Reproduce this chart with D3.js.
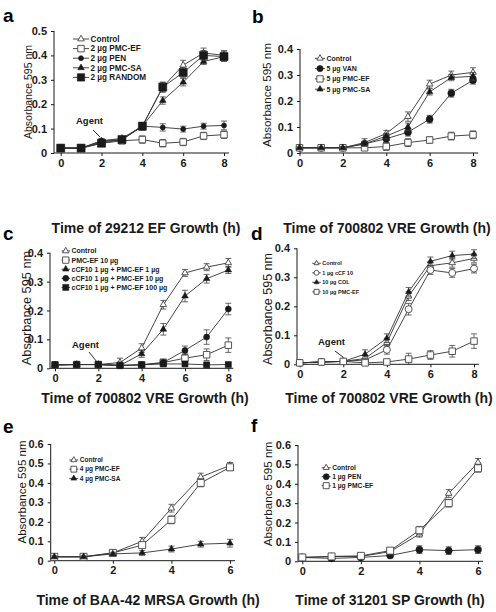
<!DOCTYPE html>
<html><head><meta charset="utf-8">
<script src="https://cdn.jsdelivr.net/npm/d3@7"></script>
<style>body{margin:0;background:#fff}svg{display:block}text{font-family:"Liberation Sans",Arial,sans-serif}</style>
</head><body>
<script>
// ---------- DATA ----------
const hours8 = [0,1,2,3,4,5,6,7,8];
const hours6 = [0,1,2,3,4,5,6];

// panel a: 29212 EF
const aTicksY = [0,0.1,0.2,0.3,0.4,0.5];
const aControl = [0.02,0.02,0.05,0.06,0.11,0.27,0.36,0.41,0.40];
const aControlErr = [0.005,0.005,0.008,0.008,0.015,0.02,0.02,0.02,0.02];
const aPmcEf = [0.02,0.02,0.04,0.05,0.055,0.04,0.045,0.07,0.075];
const aPmcEfErr = [0.005,0.005,0.008,0.01,0.015,0.015,0.015,0.015,0.015];
const aPen = [0.02,0.02,0.05,0.055,0.11,0.105,0.098,0.11,0.113];
const aPenErr = [0.005,0.005,0.008,0.008,0.015,0.015,0.012,0.012,0.018];
const aPmcSa = [0.02,0.02,0.045,0.055,0.11,0.215,0.29,0.375,0.395];
const aPmcSaErr = [0.005,0.005,0.008,0.008,0.015,0.015,0.015,0.012,0.015];
const aRandom = [0.02,0.02,0.04,0.055,0.11,0.27,0.33,0.40,0.395];
const aRandomErr = [0.005,0.005,0.008,0.008,0.015,0.02,0.02,0.02,0.02];

// panel b: 700802 VRE
const bTicksY = [0,0.1,0.2,0.3,0.4];
const bControl = [0.02,0.02,0.02,0.04,0.075,0.14,0.265,0.30,0.31];
const bControlErr = [0.003,0.003,0.005,0.015,0.012,0.018,0.015,0.015,0.018];
const bVan = [0.02,0.02,0.02,0.035,0.055,0.08,0.13,0.23,0.28];
const bVanErr = [0.003,0.003,0.005,0.01,0.015,0.015,0.015,0.015,0.015];
const bPmcEf = [0.02,0.02,0.02,0.02,0.025,0.04,0.05,0.065,0.07];
const bPmcEfErr = [0.003,0.003,0.005,0.01,0.015,0.015,0.012,0.015,0.015];
const bPmcSa = [0.02,0.02,0.02,0.035,0.065,0.10,0.235,0.29,0.295];
const bPmcSaErr = [0.003,0.003,0.005,0.01,0.01,0.015,0.012,0.012,0.015];

// panel c: 700802 VRE
const cTicksY = [0,0.1,0.2,0.3,0.4];
const cControl = [0.012,0.013,0.013,0.02,0.07,0.22,0.33,0.35,0.365];
const cControlErr = [0.003,0.003,0.003,0.015,0.015,0.015,0.012,0.012,0.015];
const cPmcEf10 = [0.012,0.013,0.013,0.01,0.012,0.02,0.035,0.047,0.08];
const cPmcEf10Err = [0.003,0.003,0.003,0.005,0.005,0.01,0.015,0.02,0.025];
const cCf1 = [0.012,0.013,0.013,0.01,0.05,0.135,0.25,0.31,0.34];
const cCf1Err = [0.003,0.003,0.003,0.005,0.012,0.02,0.02,0.015,0.012];
const cCf10 = [0.012,0.013,0.013,0.01,0.012,0.02,0.062,0.108,0.205];
const cCf10Err = [0.003,0.003,0.003,0.005,0.005,0.012,0.015,0.025,0.02];
const cCf100 = [0.012,0.013,0.013,0.01,0.012,0.015,0.015,0.012,0.013];
const cCf100Err = [0.003,0.003,0.003,0.005,0.005,0.005,0.005,0.005,0.005];

// panel d: 700802 VRE
const dTicksY = [0,0.1,0.2,0.3,0.4];
const dControl = [0.005,0.008,0.01,0.02,0.075,0.235,0.34,0.35,0.365];
const dControlErr = [0.003,0.003,0.003,0.01,0.015,0.015,0.015,0.015,0.015];
const dCcf = [0.005,0.008,0.01,0.015,0.05,0.19,0.325,0.315,0.33];
const dCcfErr = [0.003,0.003,0.003,0.005,0.015,0.02,0.015,0.015,0.015];
const dCol = [0.005,0.008,0.01,0.035,0.09,0.25,0.355,0.375,0.38];
const dColErr = [0.003,0.003,0.003,0.015,0.015,0.015,0.015,0.015,0.015];
const dPmcEf = [0.005,0.008,0.01,0.005,0.008,0.018,0.032,0.045,0.08];
const dPmcEfErr = [0.003,0.003,0.003,0.005,0.005,0.02,0.015,0.02,0.025];

// panel e: BAA-42 MRSA
const eTicksY = [0,0.1,0.2,0.3,0.4,0.5,0.6];
const eControl = [0.02,0.02,0.04,0.10,0.27,0.43,0.49];
const eControlErr = [0.005,0.005,0.008,0.02,0.02,0.02,0.015];
const ePmcEf = [0.02,0.02,0.04,0.08,0.21,0.40,0.48];
const ePmcEfErr = [0.005,0.005,0.008,0.015,0.02,0.02,0.015];
const ePmcSa = [0.02,0.02,0.035,0.04,0.06,0.085,0.09];
const ePmcSaErr = [0.005,0.005,0.008,0.012,0.015,0.015,0.02];

// panel f: 31201 SP
const fTicksY = [0,0.1,0.2,0.3,0.4,0.5,0.6];
const fControl = [0.02,0.025,0.025,0.05,0.14,0.35,0.51];
const fControlErr = [0.005,0.005,0.005,0.01,0.015,0.02,0.02];
const fPen = [0.02,0.015,0.02,0.03,0.06,0.055,0.06];
const fPenErr = [0.005,0.005,0.005,0.008,0.02,0.02,0.02];
const fPmcEf = [0.02,0.025,0.028,0.055,0.16,0.30,0.48];
const fPmcEfErr = [0.005,0.005,0.005,0.01,0.02,0.02,0.02];

const xTicks8 = [0,2,4,6,8];
const xTicks6 = [0,2,4,6];

// ---------- PANELS (layout) ----------
const panels = [
 {label:"a", lx:3, ly:22, title:"Time of 29212 EF Growth (h)", tx:146, ty:233,
  ax:54, x0:60.7, x1:224, xMax:8, y0:153, y1:31, yMax:0.5, xs:hours8, xt:xTicks8, yt:aTicksY,
  ylab:{x:32, y:92, fs:10.5}, tickFs:11,
  leg:{x:73, y:39, dy:9.6, len:16, fs:8.2},
  agent:{tx:76, ty:124, lx1:93, ly1:130, lx2:100, ly2:137, fs:9.5},
  series:[
   {name:"Control", v:aControl, e:aControlErr, m:"triOpen", s:6.5},
   {name:"2 µg PMC-EF", v:aPmcEf, e:aPmcEfErr, m:"sqOpen", s:6.5},
   {name:"2 µg PEN", v:aPen, e:aPenErr, m:"circFill", s:5},
   {name:"2 µg PMC-SA", v:aPmcSa, e:aPmcSaErr, m:"triFill", s:6.5},
   {name:"2 µg RANDOM", v:aRandom, e:aRandomErr, m:"sqFill", s:8}]},
 {label:"b", lx:252, ly:23, title:"Time of 700802 VRE Growth (h)", tx:387, ty:233,
  ax:300, x0:299.5, x1:473, xMax:8, y0:153, y1:49, yMax:0.4, xs:hours8, xt:xTicks8, yt:bTicksY,
  ylab:{x:271, y:95, fs:11.6}, tickFs:11,
  leg:{x:315, y:58.3, dy:10.3, len:10, fs:7},
  series:[
   {name:"Control", v:bControl, e:bControlErr, m:"triOpen", s:6.5},
   {name:"5 µg VAN", v:bVan, e:bVanErr, m:"circFill", s:7},
   {name:"5 µg PMC-EF", v:bPmcEf, e:bPmcEfErr, m:"sqOpen", s:6.5},
   {name:"5 µg PMC-SA", v:bPmcSa, e:bPmcSaErr, m:"triFill", s:6.5}]},
 {label:"c", lx:3, ly:240, title:"Time of 700802 VRE Growth (h)", tx:145, ty:403,
  ax:50, x0:55, x1:228.3, xMax:8, y0:368.3, y1:252.7, yMax:0.4, xs:hours8, xt:xTicks8, yt:cTicksY,
  ylab:{x:31, y:308, fs:12.8}, tickFs:11,
  leg:{x:61.5, y:251, dy:9.1, len:8.5, fs:7},
  agent:{tx:72, ty:348, lx1:89, ly1:352, lx2:97, ly2:362, fs:9.5},
  series:[
   {name:"Control", v:cControl, e:cControlErr, m:"triOpen", s:6.5},
   {name:"PMC-EF 10 µg", v:cPmcEf10, e:cPmcEf10Err, m:"sqOpen", s:6.5},
   {name:"cCF10 1 µg + PMC-EF 1 µg", v:cCf1, e:cCf1Err, m:"triFill", s:6.5},
   {name:"cCF10 1 µg + PMC-EF 10 µg", v:cCf10, e:cCf10Err, m:"circFill", s:6},
   {name:"cCF10 1 µg + PMC-EF 100 µg", v:cCf100, e:cCf100Err, m:"sqFill", s:6}]},
 {label:"d", lx:251, ly:240, title:"Time of 700802 VRE Growth (h)", tx:389, ty:403,
  ax:297, x0:299.7, x1:474, xMax:8, y0:364.3, y1:248.3, yMax:0.4, xs:hours8, xt:xTicks8, yt:dTicksY,
  ylab:{x:272, y:309, fs:12.5}, tickFs:11,
  leg:{x:312.3, y:263.3, dy:9.5, len:8.5, fs:5.5},
  agent:{tx:318, ty:345, lx1:335, ly1:351, lx2:343, ly2:357, fs:9.5},
  series:[
   {name:"Control", v:dControl, e:dControlErr, m:"triOpen", s:6.5},
   {name:"1 µg cCF 10", v:dCcf, e:dCcfErr, m:"circOpen", s:7},
   {name:"10 µg COL", v:dCol, e:dColErr, m:"triFill", s:6},
   {name:"10 µg PMC-EF", v:dPmcEf, e:dPmcEfErr, m:"sqOpen", s:6.5}]},
 {label:"e", lx:3, ly:433, title:"Time of BAA-42 MRSA Growth (h)", tx:148, ty:605,
  ax:50.7, x0:54.3, x1:230, xMax:6, y0:560.7, y1:444, yMax:0.6, xs:hours6, xt:xTicks6, yt:eTicksY,
  ylab:{x:26, y:492, fs:11.5}, tickFs:11,
  leg:{x:69.3, y:460, dy:9.2, len:9, fs:6.5},
  series:[
   {name:"Control", v:eControl, e:eControlErr, m:"triOpen", s:6.5},
   {name:"4 µg PMC-EF", v:ePmcEf, e:ePmcEfErr, m:"sqOpen", s:7},
   {name:"4 µg PMC-SA", v:ePmcSa, e:ePmcSaErr, m:"triFill", s:6.5}]},
 {label:"f", lx:251, ly:432, title:"Time of 31201 SP Growth (h)", tx:390, ty:605,
  ax:298, x0:302.3, x1:478, xMax:6, y0:561.3, y1:445, yMax:0.6, xs:hours6, xt:xTicks6, yt:fTicksY,
  ylab:{x:272, y:494, fs:11.7}, tickFs:11,
  leg:{x:321.7, y:467.7, dy:9, len:9, fs:6.7},
  series:[
   {name:"Control", v:fControl, e:fControlErr, m:"triOpen", s:6.5},
   {name:"1 µg PEN", v:fPen, e:fPenErr, m:"circFill", s:7},
   {name:"1 µg PMC-EF", v:fPmcEf, e:fPmcEfErr, m:"sqOpen", s:7}]}
];

const W = 496, H = 612;
const svg = d3.select("body").append("svg").attr("width", W).attr("height", H);
const INK = "#1a1a1a";

function marker(g, type, size, x, y) {
  let shape, area;
  if (type.startsWith("tri")) { shape = d3.symbolTriangle; area = 0.433 * size * size; }
  else if (type.startsWith("sq")) { shape = d3.symbolSquare; area = size * size; }
  else { shape = d3.symbolCircle; area = Math.PI * size * size / 4; }
  const filled = type.endsWith("Fill");
  g.append("path")
    .attr("d", d3.symbol().type(shape).size(area)())
    .attr("transform", `translate(${x},${y})`)
    .attr("fill", filled ? INK : "#fff")
    .attr("stroke", filled ? INK : "#444")
    .attr("stroke-width", filled ? 0.6 : 0.9);
}

panels.forEach(p => {
  const g = svg.append("g");
  const x = d3.scaleLinear().domain([0, p.xMax]).range([p.x0, p.x1]);
  const y = d3.scaleLinear().domain([0, p.yMax]).range([p.y0, p.y1]);
  const xEnd = x(p.xMax) + 5;

  // axes
  const yAxis = d3.axisLeft(y).tickValues(p.yt).tickSize(3).tickPadding(4)
    .tickFormat(d => d === 0 ? "0" : d3.format(".1f")(d));
  const ya = g.append("g").attr("transform", `translate(${p.ax},0)`).call(yAxis);
  ya.select(".domain").attr("d", `M-0,${p.y0}V${p.y1}`).attr("stroke", INK);
  ya.selectAll("text").attr("font-size", p.tickFs).attr("font-weight", "bold").attr("fill", INK);
  ya.selectAll("line").attr("stroke", INK);

  const xAxis = d3.axisBottom(x).tickValues(p.xt).tickSize(3).tickPadding(3).tickFormat(d3.format("d"));
  const xa = g.append("g").attr("transform", `translate(0,${p.y0})`).call(xAxis);
  xa.select(".domain").attr("d", `M${p.ax},0H${xEnd}`).attr("stroke", INK);
  xa.selectAll("text").attr("font-size", p.tickFs).attr("font-weight", "bold").attr("fill", INK);
  xa.selectAll("line").attr("stroke", INK);

  // y label
  g.append("text").attr("transform", `translate(${p.ylab.x},${p.ylab.y}) rotate(-90)`)
    .attr("text-anchor", "middle").attr("font-size", p.ylab.fs).attr("fill", INK)
    .text("Absorbance 595 nm");
  // title
  g.append("text").attr("x", p.tx).attr("y", p.ty).attr("text-anchor", "middle")
    .attr("font-size", 14).attr("font-weight", "bold").attr("fill", INK).text(p.title);
  // panel label
  g.append("text").attr("x", p.lx).attr("y", p.ly).attr("font-size", 19)
    .attr("font-weight", "bold").attr("fill", "#000").text(p.label);

  // series
  const line = d3.line().x(d => x(d[0])).y(d => y(d[1]));
  p.series.forEach(s => {
    const pts = p.xs.map((h, i) => [h, s.v[i], s.e[i]]);
    g.append("path").attr("d", line(pts)).attr("fill", "none").attr("stroke", "#333").attr("stroke-width", 0.9);
    pts.forEach(d => {
      const cx = x(d[0]), top = y(d[1] + d[2]), bot = y(Math.max(0, d[1] - d[2]));
      g.append("path").attr("d", `M${cx},${top}V${bot}M${cx-3},${top}H${cx+3}M${cx-3},${bot}H${cx+3}`)
        .attr("stroke", "#444").attr("stroke-width", 0.8).attr("fill", "none");
    });
    pts.forEach(d => marker(g, s.m, s.s, x(d[0]), y(d[1])));
  });

  // legend
  const L = p.leg;
  p.series.forEach((s, i) => {
    const ly = L.y + i * L.dy;
    g.append("line").attr("x1", L.x).attr("x2", L.x + L.len).attr("y1", ly).attr("y2", ly)
      .attr("stroke", "#333").attr("stroke-width", 0.9);
    marker(g, s.m, Math.min(s.s, L.fs * 0.9), L.x + L.len / 2, ly);
    g.append("text").attr("x", L.x + L.len + 1.5).attr("y", ly).attr("dy", "0.35em")
      .attr("font-size", L.fs).attr("font-weight", "bold").attr("fill", INK).text(s.name);
  });

  // agent annotation
  if (p.agent) {
    const A = p.agent;
    g.append("text").attr("x", A.tx).attr("y", A.ty).attr("font-size", A.fs)
      .attr("font-weight", "bold").attr("fill", INK).text("Agent");
    g.append("line").attr("x1", A.lx1).attr("y1", A.ly1).attr("x2", A.lx2).attr("y2", A.ly2)
      .attr("stroke", INK).attr("stroke-width", 0.9);
  }
});
</script>
</body></html>
